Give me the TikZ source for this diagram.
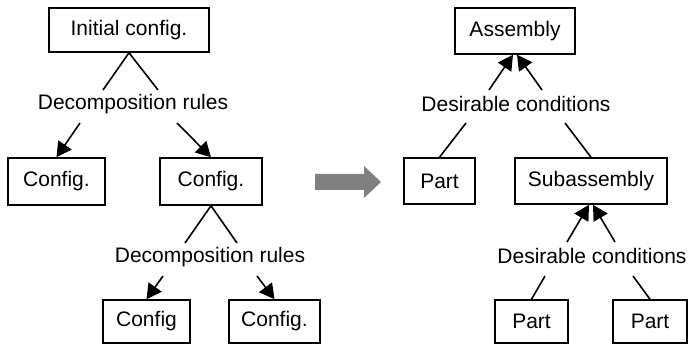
\documentclass[tikz,border=0pt]{standalone}
\usepackage{fontspec}
\setmainfont{Liberation Sans}
\usetikzlibrary{arrows.meta}
\begin{document}
\begin{tikzpicture}[x=1pt,y=-1pt,
  box/.style={draw, line width=1.5pt, inner sep=0pt, font=\fontsize{21}{25}\selectfont},
  lbl/.style={inner sep=0pt, font=\fontsize{21}{25}\selectfont},
  link/.style={line width=1.6pt},
  arr/.style={line width=1.6pt, -{Triangle[length=15pt,width=16pt]}}]
\useasboundingbox (0,0) rectangle (690,347);

% left tree: decomposition
\node[box, minimum width=160pt, minimum height=44pt] (init) at (129,30) {Initial config.};
\node[box, minimum width=97pt, minimum height=47pt] (cfgA) at (56.5,181.5) {Config.};
\node[box, minimum width=102pt, minimum height=47pt] (cfgB) at (211,181.5) {Config.};
\node[box, minimum width=87pt, minimum height=43pt] (cfgC) at (146.5,321.5) {Config};
\node[box, minimum width=91pt, minimum height=43pt] (cfgD) at (274.5,321.5) {Config.};
\node[lbl] (dr1) at (133,104) {Decomposition rules};
\node[lbl] (dr2) at (210,257) {Decomposition rules};

\coordinate (a1) at (103,90);
\coordinate (a2) at (158,90);
\coordinate (a3) at (80,123);
\coordinate (a4) at (177,123);
\coordinate (b1) at (185,243);
\coordinate (b2) at (237,243);
\coordinate (b3) at (163,276);
\coordinate (b4) at (257,276);

\draw[link] (a1) -- (init.south) -- (a2);
\draw[arr] (a3) -- (cfgA.north);
\draw[arr] (a4) -- (cfgB.north);
\draw[link] (b1) -- (cfgB.south) -- (b2);
\draw[arr] (b3) -- (cfgC.north);
\draw[arr] (b4) -- (cfgD.north);

% transition arrow between the two trees
\fill[fill={rgb,255:red,128;green,128;blue,128}]
  (315,174) -- (364,174) -- (364,166) -- (381,182) -- (364,198) -- (364,190) -- (315,190) -- cycle;

% right tree: assembly
\node[box, minimum width=120pt, minimum height=46pt] (asm) at (515,31) {Assembly};
\node[box, minimum width=71pt, minimum height=46pt] (partA) at (439.5,181) {Part};
\node[box, minimum width=152pt, minimum height=46pt] (sub) at (591,181) {Subassembly};
\node[box, minimum width=73pt, minimum height=43pt] (partB) at (531.5,321.5) {Part};
\node[box, minimum width=74pt, minimum height=43pt] (partC) at (650,321.5) {Part};
\node[lbl] (dc1) at (516,104) {Desirable conditions};
\node[lbl] (dc2) at (592,256) {Desirable conditions};

\coordinate (c1) at (489,90);
\coordinate (c2) at (542,90);
\coordinate (c3) at (466,123);
\coordinate (c4) at (565,123);
\coordinate (d1) at (567,242);
\coordinate (d2) at (615,242);
\coordinate (d3) at (545,276);
\coordinate (d4) at (633,276);

\draw[arr] (c1) -- ([xshift=-2pt]asm.south);
\draw[arr] (c2) -- ([xshift=2pt]asm.south);
\draw[link] (c3) -- (partA.north);
\draw[link] (c4) -- (sub.north);
\draw[arr] (d1) -- ([xshift=-2pt]sub.south);
\draw[arr] (d2) -- ([xshift=2pt]sub.south);
\draw[link] (d3) -- (partB.north);
\draw[link] (d4) -- (partC.north);
\end{tikzpicture}
\end{document}
